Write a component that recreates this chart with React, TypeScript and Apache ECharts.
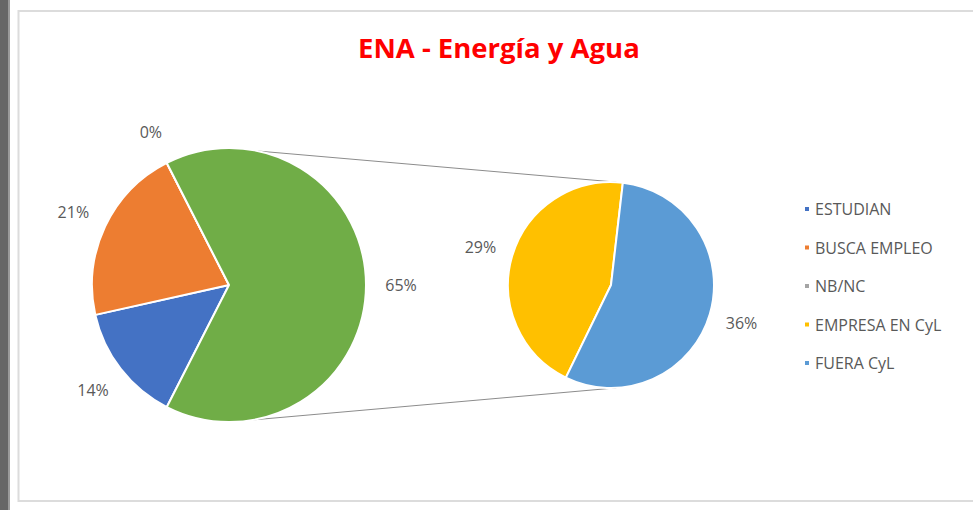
import React, { useEffect, useRef } from "react";
import * as echarts from "echarts";

const mainNames = ["ESTUDIAN", "BUSCA EMPLEO", "NB/NC", "Otro"];
const mainValues = [14, 21, 0, 65];
const mainColors = ["#4472C4", "#ED7D31", "#A5A5A5", "#70AD47"];

const subNames = ["EMPRESA EN CyL", "FUERA CyL"];
const subValues = [29, 36];
const subColors = ["#FFC000", "#5B9BD5"];

const legendNames = ["ESTUDIAN", "BUSCA EMPLEO", "NB/NC", "EMPRESA EN CyL", "FUERA CyL"];

const TITLE = "ENA - Energía y Agua";

export default function App() {
  const ref = useRef<HTMLDivElement>(null);
  useEffect(() => {
    if (!ref.current) return;
    const chart = echarts.init(ref.current, null, { renderer: "svg" });
    const L = { x: 229, y: 285, r: 137 };
    const R = { x: 611, y: 285, r: 103 };
    const mainTotal = mainValues.reduce((a, b) => a + b, 0);
    const otherShare = mainValues[3] / mainTotal;
    // "Otro" slice centred on the right-hand side
    const mainStartAngle = 360 - (otherShare * 360) / 2;
    const subStartAngle = 244;

    const pt = (c: { x: number; y: number; r: number }, deg: number) => [
      c.x + c.r * Math.cos((deg * Math.PI) / 180),
      c.y - c.r * Math.sin((deg * Math.PI) / 180),
    ];
    const lt = pt(L, 78);
    const lb = pt(L, -80);
    const rt = pt(R, 87);
    const rb = pt(R, -87);

    const labelFont = {
      color: "#595959",
      fontFamily: "Open Sans",
      fontSize: 16,
    };

    const mk = (names: string[], values: number[], colors?: string[]) =>
      names.map((n, i) => ({
        name: n,
        value: values[i],
        itemStyle: colors ? { color: colors[i] } : undefined,
      }));

    chart.setOption({
      animation: false,
      backgroundColor: "#ffffff",
      title: {
        text: TITLE,
        left: 353,
        top: 28,
        textStyle: {
          color: "#FF0000",
          fontFamily: "Open Sans",
          fontWeight: "bold",
          fontSize: 27.5,
        },
      },
      legend: {
        orient: "vertical",
        left: 798,
        top: 195,
        data: legendNames,
        icon: "rect",
        itemWidth: 6,
        itemHeight: 6,
        itemGap: 20.5,
        textStyle: { ...labelFont, lineHeight: 18 },
        selectedMode: false,
      },
      graphic: [
        { type: "rect", shape: { x: 0, y: 0, width: 8, height: 510 }, style: { fill: "#666666" }, silent: true },
        { type: "rect", shape: { x: 8, y: 0, width: 2, height: 510 }, style: { fill: "#9a9a9a" }, silent: true },
        {
          type: "rect",
          shape: { x: 18.5, y: 11, width: 1000, height: 490 },
          style: { fill: "none", stroke: "#dcdcdc", lineWidth: 2 },
          silent: true,
        },
        {
          type: "line",
          shape: { x1: lt[0], y1: lt[1], x2: rt[0], y2: rt[1] },
          style: { stroke: "#8c8c8c", lineWidth: 1 },
          silent: true,
        },
        {
          type: "line",
          shape: { x1: lb[0], y1: lb[1], x2: rb[0], y2: rb[1] },
          style: { stroke: "#8c8c8c", lineWidth: 1 },
          silent: true,
        },
      ],
      series: [
        {
          type: "pie",
          center: [L.x, L.y],
          radius: L.r,
          startAngle: mainStartAngle,
          clockwise: true,
          silent: true,
          label: { show: false },
          labelLine: { show: false },
          itemStyle: { borderColor: "#ffffff", borderWidth: 2 },
          data: mk(mainNames, mainValues, mainColors),
        },
        {
          type: "pie",
          center: [R.x, R.y],
          radius: R.r,
          startAngle: subStartAngle,
          clockwise: true,
          silent: true,
          label: { show: false },
          labelLine: { show: false },
          itemStyle: { borderColor: "#ffffff", borderWidth: 2 },
          data: mk(subNames, subValues, subColors),
        },
        {
          type: "pie",
          center: [L.x, L.y],
          radius: [L.r + 20, L.r + 44],
          startAngle: mainStartAngle,
          clockwise: true,
          silent: true,
          itemStyle: { color: "rgba(0,0,0,0)" },
          label: { show: true, position: "inside", formatter: "{c}%", ...labelFont },
          labelLine: { show: false },
          data: mk(mainNames, mainValues),
        },
        {
          type: "pie",
          center: [R.x, R.y],
          radius: [R.r + 18, R.r + 42],
          startAngle: subStartAngle,
          clockwise: true,
          silent: true,
          itemStyle: { color: "rgba(0,0,0,0)" },
          label: { show: true, position: "inside", formatter: "{c}%", ...labelFont },
          labelLine: { show: false },
          data: mk(subNames, subValues),
        },
      ],
    });
    return () => chart.dispose();
  }, []);
  return (
    <div
      ref={ref}
      style={{ position: "absolute", left: 0, top: 0, width: 973, height: 510 }}
    />
  );
}
